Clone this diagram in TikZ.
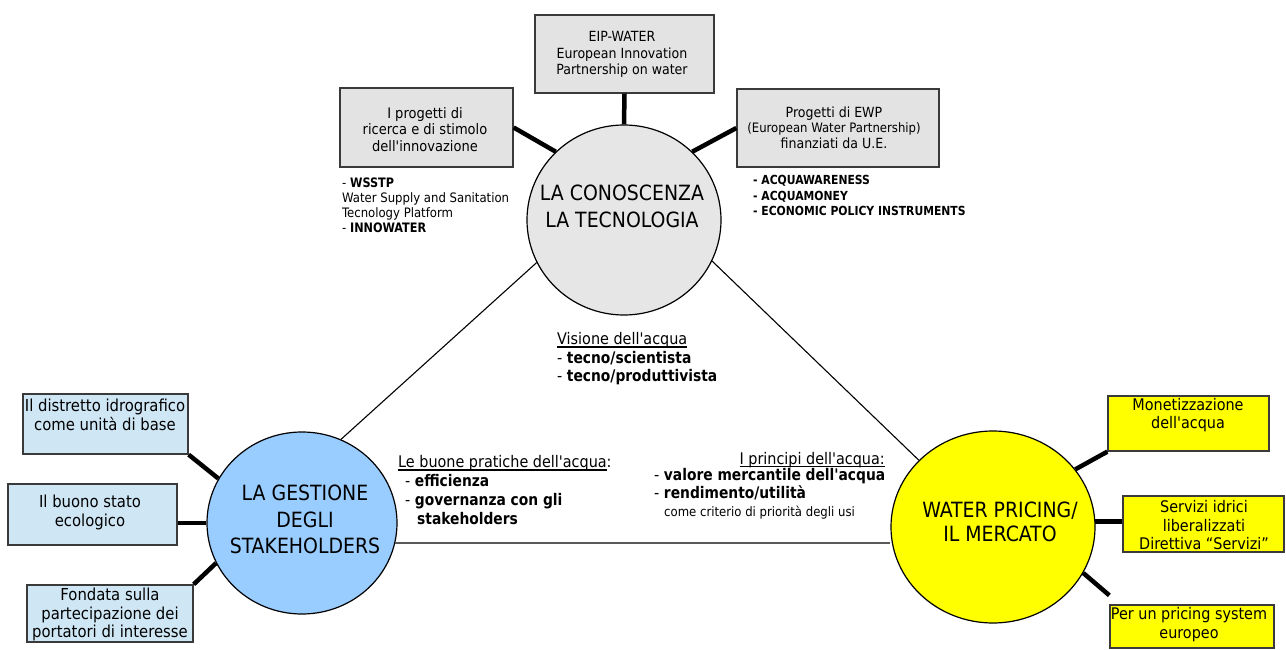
\documentclass[tikz,border=0pt]{standalone}
\usepackage{fontspec}
\setmainfont{DejaVu Sans Condensed}[Ligatures=TeXOff, BoldFeatures={FakeStretch=0.96}]
\usetikzlibrary{shapes.geometric}
\definecolor{grayfill}{HTML}{E6E6E6}
\definecolor{boxgray}{HTML}{E3E3E3}
\definecolor{bluefill}{HTML}{99CCFF}
\definecolor{boxblue}{HTML}{CFE7F5}
\definecolor{yel}{HTML}{FFFF00}
\definecolor{edge}{HTML}{3A3A3A}
\newcommand\fsz[2]{\fontsize{#1}{#2}\selectfont}
\newcommand\myul[1]{\setbox0\hbox{#1}\rlap{\rule[-2.6pt]{\wd0}{1.1pt}}\box0}
\begin{document}
\begin{tikzpicture}[x=1pt,y=-1pt,
  circ/.style={ellipse, draw=black, line width=1.2pt, inner sep=0pt},
  boxn/.style={rectangle, draw=edge, line width=1.3pt, inner sep=0pt},
  txt/.style={inner sep=0pt, align=center, text=black},
  ltxt/.style={inner sep=0pt, align=left, anchor=west, text=black},
  conn/.style={line width=4.5pt, black},
  thinl/.style={line width=1.1pt, black},
  hl/.style={line width=2pt, color=black!65}]
\useasboundingbox[fill=white] (0,0) rectangle (1286,650);

% circles
\node[circ, fill=grayfill, minimum width=194pt, minimum height=190pt] (know) at (624,220) {};
\node[circ, fill=bluefill, minimum width=190pt, minimum height=182pt] (mgmt) at (302,523) {};
\node[circ, fill=yel, minimum width=204pt, minimum height=192pt] (mkt) at (993,527) {};

% thin links between circles
\draw[thinl] (know.206) -- (mgmt.65);
\draw[thinl] (know.335) -- (mkt.138);
\draw[hl] (mgmt.348) -- (mgmt.348 -| mkt.west);

% boxes
\node[boxn, fill=boxgray, minimum width=179pt, minimum height=78pt] (eip) at (624.5,54) {};
\node[boxn, fill=boxgray, minimum width=173pt, minimum height=79pt] (ric) at (426.5,127.5) {};
\node[boxn, fill=boxgray, minimum width=202pt, minimum height=78pt] (ewp) at (838,128) {};
\node[boxn, fill=boxblue, minimum width=165pt, minimum height=60pt] (dist) at (105.5,424) {};
\node[boxn, fill=boxblue, minimum width=169pt, minimum height=61pt] (eco) at (92.5,514.5) {};
\node[boxn, fill=boxblue, minimum width=166pt, minimum height=57pt] (fond) at (110,613.5) {};
\node[boxn, fill=yel, minimum width=161pt, minimum height=55pt] (mon) at (1188.5,423.5) {};
\node[boxn, fill=yel, minimum width=161pt, minimum height=56pt] (serv) at (1203.5,524) {};
\node[boxn, fill=yel, minimum width=164pt, minimum height=43pt] (pric) at (1192,626.5) {};

% thick connectors
\draw[conn] (eip.south) -- (know.90);
\draw[conn] (ric.east) -- (know.135);
\draw[conn] (ewp.west) -- (know.45);
\draw[conn] (dist.south east) -- (mgmt.152);
\draw[conn] (mgmt.180) -- (mgmt.180 -| eco.east);
\draw[conn] (fond.north east) -- (mgmt.205);
\draw[conn] (mkt.35) -- (mon.south west);
\draw[conn] (mkt.3) -- (mkt.3 -| serv.west);
\draw[conn] (mkt.333) -- ([yshift=9pt]pric.north west);

% circle texts
\node[txt, font=\fsz{21}{26.5}] (knowt) at (622,206.5) {LA CONOSCENZA\\LA TECNOLOGIA};
\node[txt, font=\fsz{21}{26.5}] (mgmtt) at (305,519.5) {LA GESTIONE\\DEGLI\\STAKEHOLDERS};
\node[txt, font=\fsz{21}{24.5}] (mktt) at (1000,522) {WATER PRICING/\\IL MERCATO};

% box texts
\node[txt, font=\fsz{14}{16.5}] (eipt) at (622,54.5) {EIP-WATER\\European Innovation\\Partnership on water};
\node[txt, font=\fsz{14.5}{16.5}] (rict) at (425,129.5) {I progetti di\\ricerca e di stimolo\\dell'innovazione};
\node[txt, font=\fsz{14}{15.5}] (ewpt) at (834,127.5) {Progetti di EWP\\{\fsz{13}{15.5}(European Water Partnership)}\\finanziati da U.E.};
\node[txt, font=\fsz{16.5}{19}] (distt) at (105,414.5) {Il distretto idrografico\\come unità di base};
\node[txt, font=\fsz{16.5}{19}] (ecot) at (90,512.5) {Il buono stato\\ecologico};
\node[txt, font=\fsz{16.5}{18.5}] (fondt) at (110,614.5) {Fondata sulla\\partecipazione dei\\portatori di interesse};
\node[txt, font=\fsz{16}{18}] (mont) at (1188,415) {Monetizzazione\\dell'acqua};
\node[txt, font=\fsz{16}{18.5}] (servt) at (1204,525.5) {Servizi idrici\\liberalizzati\\Direttiva “Servizi”};
\node[txt, font=\fsz{16}{19}] (prict) at (1189,624.5) {Per un pricing system\\europeo};

% free texts
\node[ltxt, font=\fsz{13}{15}] (ll) at (342,205.5) {- \textbf{WSSTP}\\Water Supply and Sanitation\\Tecnology Platform\\- \textbf{INNOWATER}};
\node[ltxt, font=\bfseries\fsz{12.5}{15.5}] (rl) at (753,195.5) {- ACQUAWARENESS\\- ACQUAMONEY\\- ECONOMIC POLICY INSTRUMENTS};
\node[ltxt, font=\fsz{16}{18.5}] (vis) at (557,359) {\myul{Visione dell'acqua}\\- \textbf{tecno/scientista}\\- \textbf{tecno/produttivista}};
\node[ltxt, font=\fsz{16}{18.7}] (buone) at (398,490) {\myul{Le buone pratiche dell'acqua}:\\\hspace*{7pt}- \textbf{efficienza}\\\hspace*{7pt}- \textbf{governanza con gli}\\\hspace*{19pt}\textbf{stakeholders}};
\node[inner sep=0pt, anchor=east, font=\fsz{16}{18.7}] (printitle) at (885,460) {\myul{I principi dell'acqua:}};
\node[ltxt, font=\fsz{16}{18}] (prinlist) at (654,494) {- \textbf{valore mercantile dell'acqua}\\- \textbf{rendimento/utilità}\\\hspace*{10pt}{\fsz{13}{15}come criterio di priorità degli usi}};
\end{tikzpicture}
\end{document}
